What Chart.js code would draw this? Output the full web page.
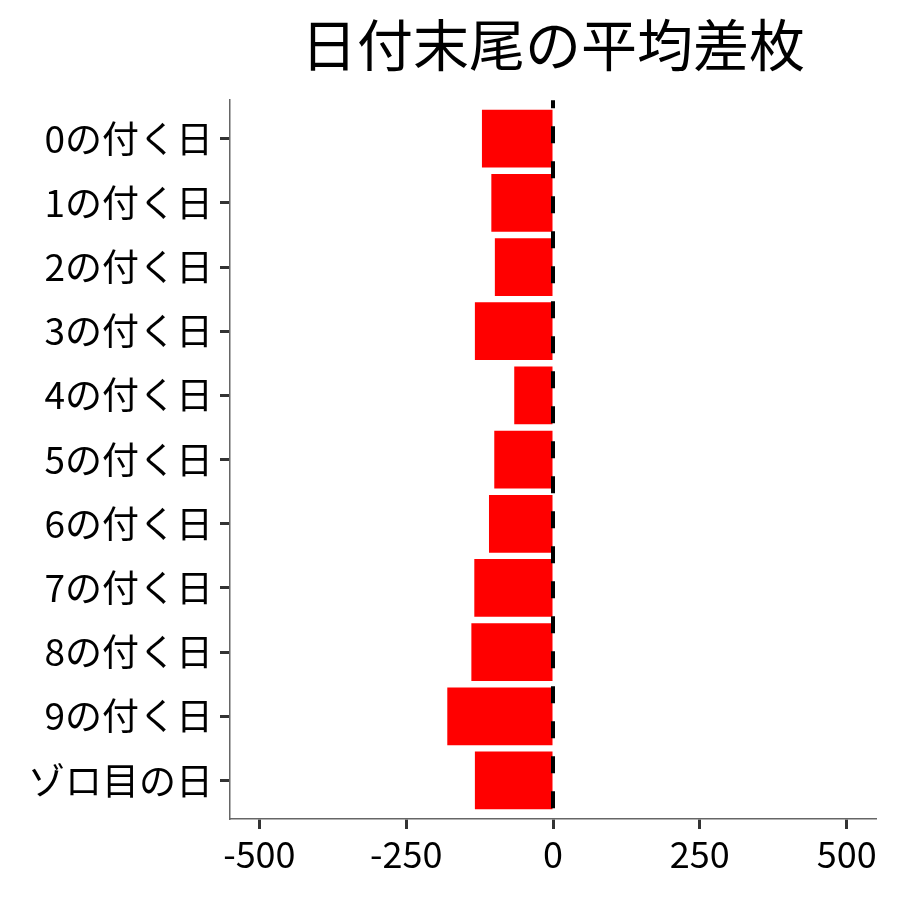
<!DOCTYPE html>
<html>
<head>
<meta charset="utf-8">
<script src="https://cdn.jsdelivr.net/npm/chart.js@4"></script>
<style>
  html, body { margin: 0; padding: 0; background: #fff; }
  #wrap { width: 900px; height: 900px; }
</style>
</head>
<body>
<div id="wrap"><canvas id="chart" width="900" height="900"></canvas></div>
<script>
// chart data
const categories = ["0の付く日", "1の付く日", "2の付く日", "3の付く日", "4の付く日",
  "5の付く日", "6の付く日", "7の付く日", "8の付く日", "9の付く日", "ゾロ目の日"];
const meanDiff = [-121, -105, -99, -133, -66, -100, -109, -134, -139, -180, -133];
const xTicks = [-500, -250, 0, 250, 500];
const titleText = "日付末尾の平均差枚";

const FONT = "'Noto Sans CJK JP', 'Noto Sans', sans-serif";

// dashed vertical line at zero, drawn over the bars
const zeroLine = {
  id: "zeroLine",
  afterDatasetsDraw(chart) {
    const { ctx, chartArea, scales } = chart;
    const x = scales.x.getPixelForValue(0);
    ctx.save();
    ctx.strokeStyle = "#000";
    ctx.lineWidth = 4;
    ctx.setLineDash([17, 18]);
    ctx.lineDashOffset = 9;
    ctx.beginPath();
    ctx.moveTo(x, chartArea.top);
    ctx.lineTo(x, chartArea.bottom);
    ctx.stroke();
    ctx.restore();
  }
};

// category positions 0..n-1 on a numeric axis so the padding can be fractional
const points = meanDiff.map((v, i) => ({ x: v, y: i }));

const ctx = document.getElementById("chart").getContext("2d");
new Chart(ctx, {
  type: "bar",
  data: {
    datasets: [{
      data: points,
      backgroundColor: "#ff0000",
      borderWidth: 0,
      barPercentage: 0.9,
      categoryPercentage: 1.0
    }]
  },
  options: {
    indexAxis: "y",
    responsive: false,
    animation: false,
    layout: { padding: { left: 0, right: 24, top: 0, bottom: 0 } },
    plugins: {
      legend: { display: false },
      tooltip: { enabled: false },
      title: {
        display: true,
        text: titleText,
        fullSize: false,
        color: "#000",
        font: { family: FONT, size: 56, weight: "normal", lineHeight: 1.2 },
        padding: { top: 11, bottom: 22 }
      }
    },
    scales: {
      x: {
        type: "linear",
        min: -550,
        max: 550,
        afterBuildTicks(scale) {
          scale.ticks = xTicks.map(v => ({ value: v }));
        },
        afterFit(scale) { scale.height = 81; },
        grid: {
          drawOnChartArea: false,
          drawTicks: true,
          tickLength: 10,
          tickWidth: 3,
          tickColor: "#333"
        },
        border: { display: true, color: "#666", width: 1.5 },
        ticks: {
          color: "#000",
          padding: 4,
          maxRotation: 0,
          font: { family: FONT, size: 36 }
        }
      },
      y: {
        type: "linear",
        reverse: true,
        offset: false,
        min: -0.6,
        max: categories.length - 0.4,
        afterBuildTicks(scale) {
          scale.ticks = categories.map((c, i) => ({ value: i }));
        },
        afterFit(scale) { scale.width = 230; },
        grid: {
          offset: false,
          drawOnChartArea: false,
          drawTicks: true,
          tickLength: 10,
          tickWidth: 3,
          tickColor: "#333"
        },
        border: { display: true, color: "#666", width: 1.5 },
        ticks: {
          color: "#000",
          padding: 7,
          autoSkip: false,
          callback: (v) => categories[v],
          font: { family: FONT, size: 37 }
        }
      }
    }
  },
  plugins: [zeroLine]
});
</script>
</body>
</html>
